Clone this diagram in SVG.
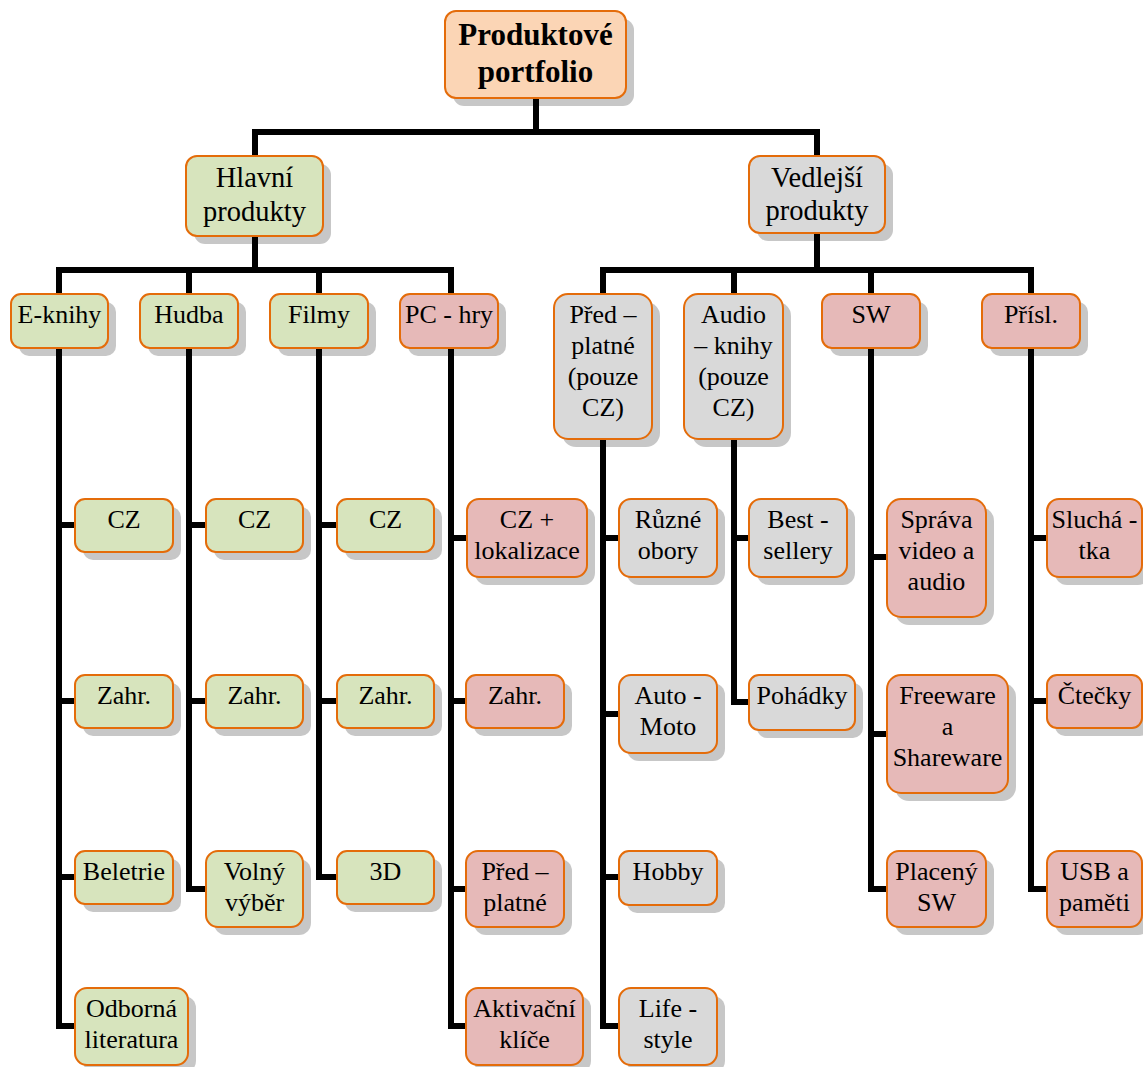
<svg xmlns="http://www.w3.org/2000/svg" width="1143" height="1067" viewBox="0 0 1143 1067">
  <style>
    .sh { fill: #000; opacity: 0.22; }
    .box { stroke: #E46C0A; stroke-width: 2; }
    .g { fill: #D7E4BD; }
    .r { fill: #E6B9B8; }
    .n { fill: #D9D9D9; }
    .o { fill: #FBD5B5; }
    text { font-family: "Liberation Serif", "Times New Roman", serif; font-size: 26px; fill: #000; text-anchor: middle; }
    .root text { font-size: 31px; font-weight: bold; }
    .l1 text { font-size: 28.5px; }
    .wire { fill: none; stroke: #000; stroke-width: 6; stroke-linejoin: miter; stroke-linecap: square; }
  </style>

  <!-- tree connectors -->
  <g id="connectors" class="wire">
    <path d="M536 98V132M255 132H817M255 132V156M817 132V156"/>
    <path d="M255 236V270M59 270H451M59 270V294M189 270V294M319 270V294M451 270V294"/>
    <path d="M817 233V270M603 270H1031M603 270V294M734 270V294M871 270V294M1031 270V294"/>
    <!-- E-knihy branch -->
    <path d="M59 348V1026H75M59 525H75M59 701H75M59 877H75"/>
    <!-- Hudba branch -->
    <path d="M189 348V889H206M189 525H206M189 701H206"/>
    <!-- Filmy branch -->
    <path d="M319 348V877H337M319 525H337M319 701H337"/>
    <!-- PC - hry branch -->
    <path d="M451 348V1026H466M451 538H467M451 701H466M451 889H466"/>
    <!-- Předplatné branch -->
    <path d="M603 439V1026H619M603 538H619M603 714H619M603 877H619"/>
    <!-- Audioknihy branch -->
    <path d="M734 439V702H749M734 538H749"/>
    <!-- SW branch -->
    <path d="M871 348V889H887M871 557H887M871 734H887"/>
    <!-- Příslušenství branch -->
    <path d="M1031 348V889H1047M1031 538H1047M1031 701H1047"/>
  </g>

  <!-- root -->
  <g id="n-root" class="root">
    <rect class="sh" x="453" y="19" width="181" height="87" rx="11"/>
    <rect class="box o" x="445" y="11" width="181" height="87" rx="11"/>
    <text><tspan x="535.5" y="45">Produktové</tspan><tspan x="535.5" y="82">portfolio</tspan></text>
  </g>

  <!-- level 1 -->
  <g id="n-hlavni" class="l1">
    <rect class="sh" x="194" y="164" width="137" height="80" rx="11"/>
    <rect class="box g" x="186" y="156" width="137" height="80" rx="11"/>
    <text><tspan x="254.5" y="187">Hlavní</tspan><tspan x="254.5" y="221">produkty</tspan></text>
  </g>
  <g id="n-vedlejsi" class="l1">
    <rect class="sh" x="757" y="164" width="136" height="77" rx="11"/>
    <rect class="box n" x="749" y="156" width="136" height="77" rx="11"/>
    <text><tspan x="817" y="187">Vedlejší</tspan><tspan x="817" y="220">produkty</tspan></text>
  </g>

  <!-- level 2 -->
  <g id="n-eknihy">
    <rect class="sh" x="19" y="302" width="97" height="54" rx="10"/>
    <rect class="box g" x="11" y="294" width="97" height="54" rx="10"/>
    <text x="59.5" y="323">E-knihy</text>
  </g>
  <g id="n-hudba">
    <rect class="sh" x="148" y="302" width="98" height="54" rx="10"/>
    <rect class="box g" x="140" y="294" width="98" height="54" rx="10"/>
    <text x="189" y="323">Hudba</text>
  </g>
  <g id="n-filmy">
    <rect class="sh" x="278" y="302" width="98" height="54" rx="10"/>
    <rect class="box g" x="270" y="294" width="98" height="54" rx="10"/>
    <text x="319" y="323">Filmy</text>
  </g>
  <g id="n-pchry">
    <rect class="sh" x="408" y="302" width="98" height="54" rx="10"/>
    <rect class="box r" x="400" y="294" width="98" height="54" rx="10"/>
    <text x="449" y="323">PC - hry</text>
  </g>
  <g id="n-predplatne">
    <rect class="sh" x="562" y="302" width="98" height="145" rx="14"/>
    <rect class="box n" x="554" y="294" width="98" height="145" rx="14"/>
    <text><tspan x="603" y="323">Před –</tspan><tspan x="603" y="354">platné</tspan><tspan x="603" y="385">(pouze</tspan><tspan x="603" y="416">CZ)</tspan></text>
  </g>
  <g id="n-audioknihy">
    <rect class="sh" x="692" y="302" width="99" height="145" rx="14"/>
    <rect class="box n" x="684" y="294" width="99" height="145" rx="14"/>
    <text><tspan x="733.5" y="323">Audio</tspan><tspan x="733.5" y="354">– knihy</tspan><tspan x="733.5" y="385">(pouze</tspan><tspan x="733.5" y="416">CZ)</tspan></text>
  </g>
  <g id="n-sw">
    <rect class="sh" x="830" y="302" width="98" height="54" rx="10"/>
    <rect class="box r" x="822" y="294" width="98" height="54" rx="10"/>
    <text x="871" y="323">SW</text>
  </g>
  <g id="n-prisl">
    <rect class="sh" x="990" y="302" width="98" height="54" rx="10"/>
    <rect class="box r" x="982" y="294" width="98" height="54" rx="10"/>
    <text x="1031" y="323">Přísl.</text>
  </g>

  <!-- E-knihy leaves -->
  <g id="n-ek-cz">
    <rect class="sh" x="83" y="507" width="98" height="53" rx="10"/>
    <rect class="box g" x="75" y="499" width="98" height="53" rx="10"/>
    <text x="124" y="528">CZ</text>
  </g>
  <g id="n-ek-zahr">
    <rect class="sh" x="83" y="683" width="98" height="53" rx="10"/>
    <rect class="box g" x="75" y="675" width="98" height="53" rx="10"/>
    <text x="124" y="704">Zahr.</text>
  </g>
  <g id="n-ek-beletrie">
    <rect class="sh" x="83" y="859" width="98" height="53" rx="10"/>
    <rect class="box g" x="75" y="851" width="98" height="53" rx="10"/>
    <text x="124" y="880">Beletrie</text>
  </g>
  <g id="n-ek-odborna">
    <rect class="sh" x="83" y="996" width="113" height="77" rx="12"/>
    <rect class="box g" x="75" y="988" width="113" height="77" rx="12"/>
    <text><tspan x="131.5" y="1017">Odborná</tspan><tspan x="131.5" y="1048">literatura</tspan></text>
  </g>

  <!-- Hudba leaves -->
  <g id="n-hu-cz">
    <rect class="sh" x="214" y="507" width="97" height="53" rx="10"/>
    <rect class="box g" x="206" y="499" width="97" height="53" rx="10"/>
    <text x="254.5" y="528">CZ</text>
  </g>
  <g id="n-hu-zahr">
    <rect class="sh" x="214" y="683" width="97" height="53" rx="10"/>
    <rect class="box g" x="206" y="675" width="97" height="53" rx="10"/>
    <text x="254.5" y="704">Zahr.</text>
  </g>
  <g id="n-hu-volny">
    <rect class="sh" x="214" y="859" width="97" height="76" rx="12"/>
    <rect class="box g" x="206" y="851" width="97" height="76" rx="12"/>
    <text><tspan x="254.5" y="880">Volný</tspan><tspan x="254.5" y="911">výběr</tspan></text>
  </g>

  <!-- Filmy leaves -->
  <g id="n-fi-cz">
    <rect class="sh" x="345" y="507" width="97" height="53" rx="10"/>
    <rect class="box g" x="337" y="499" width="97" height="53" rx="10"/>
    <text x="385.5" y="528">CZ</text>
  </g>
  <g id="n-fi-zahr">
    <rect class="sh" x="345" y="683" width="97" height="53" rx="10"/>
    <rect class="box g" x="337" y="675" width="97" height="53" rx="10"/>
    <text x="385.5" y="704">Zahr.</text>
  </g>
  <g id="n-fi-3d">
    <rect class="sh" x="345" y="859" width="97" height="53" rx="10"/>
    <rect class="box g" x="337" y="851" width="97" height="53" rx="10"/>
    <text x="385.5" y="880">3D</text>
  </g>

  <!-- PC - hry leaves -->
  <g id="n-pc-cz">
    <rect class="sh" x="475" y="507" width="120" height="78" rx="12"/>
    <rect class="box r" x="467" y="499" width="120" height="78" rx="12"/>
    <text><tspan x="527" y="528">CZ +</tspan><tspan x="527" y="559">lokalizace</tspan></text>
  </g>
  <g id="n-pc-zahr">
    <rect class="sh" x="474" y="683" width="98" height="53" rx="10"/>
    <rect class="box r" x="466" y="675" width="98" height="53" rx="10"/>
    <text x="515" y="704">Zahr.</text>
  </g>
  <g id="n-pc-predplatne">
    <rect class="sh" x="474" y="859" width="98" height="76" rx="12"/>
    <rect class="box r" x="466" y="851" width="98" height="76" rx="12"/>
    <text><tspan x="515" y="880">Před –</tspan><tspan x="515" y="911">platné</tspan></text>
  </g>
  <g id="n-pc-klice">
    <rect class="sh" x="474" y="996" width="117" height="77" rx="12"/>
    <rect class="box r" x="466" y="988" width="117" height="77" rx="12"/>
    <text><tspan x="524.5" y="1017">Aktivační</tspan><tspan x="524.5" y="1048">klíče</tspan></text>
  </g>

  <!-- Předplatné leaves -->
  <g id="n-pr-obory">
    <rect class="sh" x="627" y="507" width="98" height="78" rx="12"/>
    <rect class="box n" x="619" y="499" width="98" height="78" rx="12"/>
    <text><tspan x="668" y="528">Různé</tspan><tspan x="668" y="559">obory</tspan></text>
  </g>
  <g id="n-pr-auto">
    <rect class="sh" x="627" y="683" width="98" height="78" rx="12"/>
    <rect class="box n" x="619" y="675" width="98" height="78" rx="12"/>
    <text><tspan x="668" y="704">Auto -</tspan><tspan x="668" y="735">Moto</tspan></text>
  </g>
  <g id="n-pr-hobby">
    <rect class="sh" x="627" y="859" width="98" height="54" rx="10"/>
    <rect class="box n" x="619" y="851" width="98" height="54" rx="10"/>
    <text x="668" y="880">Hobby</text>
  </g>
  <g id="n-pr-life">
    <rect class="sh" x="627" y="996" width="98" height="77" rx="12"/>
    <rect class="box n" x="619" y="988" width="98" height="77" rx="12"/>
    <text><tspan x="668" y="1017">Life -</tspan><tspan x="668" y="1048">style</tspan></text>
  </g>

  <!-- Audioknihy leaves -->
  <g id="n-au-best">
    <rect class="sh" x="757" y="507" width="98" height="78" rx="12"/>
    <rect class="box n" x="749" y="499" width="98" height="78" rx="12"/>
    <text><tspan x="798" y="528">Best -</tspan><tspan x="798" y="559">sellery</tspan></text>
  </g>
  <g id="n-au-pohadky">
    <rect class="sh" x="757" y="683" width="106" height="55" rx="10"/>
    <rect class="box n" x="749" y="675" width="106" height="55" rx="10"/>
    <text x="802" y="704">Pohádky</text>
  </g>

  <!-- SW leaves -->
  <g id="n-sw-sprava">
    <rect class="sh" x="895" y="507" width="99" height="118" rx="14"/>
    <rect class="box r" x="887" y="499" width="99" height="118" rx="14"/>
    <text><tspan x="936.5" y="528">Správa</tspan><tspan x="936.5" y="559">video a</tspan><tspan x="936.5" y="590">audio</tspan></text>
  </g>
  <g id="n-sw-freeware">
    <rect class="sh" x="895" y="683" width="121" height="118" rx="14"/>
    <rect class="box r" x="887" y="675" width="121" height="118" rx="14"/>
    <text><tspan x="947.5" y="704">Freeware</tspan><tspan x="947.5" y="735">a</tspan><tspan x="947.5" y="766">Shareware</tspan></text>
  </g>
  <g id="n-sw-placeny">
    <rect class="sh" x="895" y="859" width="99" height="76" rx="12"/>
    <rect class="box r" x="887" y="851" width="99" height="76" rx="12"/>
    <text><tspan x="936.5" y="880">Placený</tspan><tspan x="936.5" y="911">SW</tspan></text>
  </g>

  <!-- Příslušenství leaves -->
  <g id="n-pl-sluchatka">
    <rect class="sh" x="1055" y="507" width="95" height="78" rx="12"/>
    <rect class="box r" x="1047" y="499" width="95" height="78" rx="12"/>
    <text><tspan x="1094.5" y="528">Sluchá -</tspan><tspan x="1094.5" y="559">tka</tspan></text>
  </g>
  <g id="n-pl-ctecky">
    <rect class="sh" x="1055" y="683" width="95" height="53" rx="10"/>
    <rect class="box r" x="1047" y="675" width="95" height="53" rx="10"/>
    <text x="1094.5" y="704">Čtečky</text>
  </g>
  <g id="n-pl-usb">
    <rect class="sh" x="1055" y="859" width="95" height="76" rx="12"/>
    <rect class="box r" x="1047" y="851" width="95" height="76" rx="12"/>
    <text><tspan x="1094.5" y="880">USB a</tspan><tspan x="1094.5" y="911">paměti</tspan></text>
  </g>
</svg>
